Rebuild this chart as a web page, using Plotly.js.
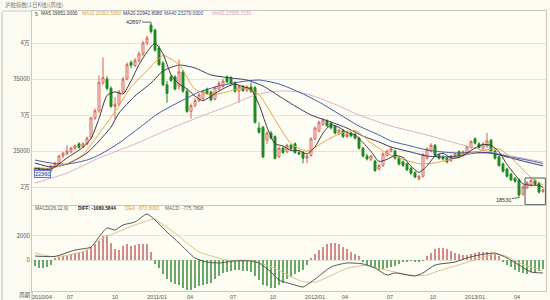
<!DOCTYPE html>
<html><head><meta charset="utf-8">
<script src="https://cdn.plot.ly/plotly-3.0.1.min.js"></script>
<style>html,body{margin:0;padding:0;background:#fbfbf2;}#c{width:550px;height:300px;}</style>
</head><body><div id="c"></div>
<script>
// ---- candle data (weekly) ----
var opn = [22300,22600,22200,22500,22300,22900,23300,24300,24600,24900,
25400,26000,25600,26000,26900,29600,30600,34500,35000,33700,
31200,31500,33200,35000,37300,36900,37600,38500,40000,42500,
41800,39300,37200,34200,35300,35300,34000,36000,33300,30500,
31300,32000,32300,33600,33200,32200,33600,34000,35300,35200,
34500,33300,34000,33400,33900,33800,28200,28300,26500,27500,
27000,24200,25400,24900,25800,26000,24800,24800,24000,24400,
26700,27800,28700,29200,28900,28400,27400,27800,27000,27500,
27300,26800,25400,24300,23800,23600,22500,23000,24400,25000,
25000,24000,23500,23200,22600,22000,21100,21500,24000,25000,
25800,24400,24100,24000,23700,24300,24900,24400,24700,25500,
26700,26000,25400,25700,26500,25000,24200,23200,22500,21800,
21200,21000,19000,19900,20300,20900,20500,19400];
var hi = [22800,22700,22700,22600,23100,23500,24500,24900,25800,25600,
25900,26200,26200,27000,29800,30900,35500,38000,35400,34000,
32500,33500,35300,37300,37600,37900,38800,40300,41000,42897,
42000,39600,37500,34700,35600,35500,37700,36300,33600,31600,
32300,33000,33500,33800,33400,34000,34700,35000,35500,35400,
34700,34200,34200,34100,34500,34000,29000,28500,27800,27800,
27200,25600,25600,26000,26000,26200,25100,25000,24500,26900,
28400,29200,29500,29400,29000,28600,28100,28000,27500,27700,
27500,27000,25600,24600,24500,23800,23200,24800,25200,25600,
25200,24200,23700,23400,22800,22200,21700,24700,25500,26100,
26000,24700,24400,24200,24500,24800,25100,25100,25800,26500,
26900,26200,26200,27500,26700,25200,24400,23400,22700,22000,
21400,21200,20300,20800,21100,21100,20700,19800];
var lo = [22100,22000,22100,22000,22100,22700,23200,24000,24400,24700,
25100,25300,25400,25800,26700,29300,30300,34200,33400,31000,
29400,31200,33000,34800,36500,36600,37300,38200,39700,41300,
38800,36800,34000,31700,34600,33400,33500,33100,30300,29500,
31100,31800,32100,32800,31900,32000,33400,33800,34400,34200,
33100,31700,33200,33200,33100,28800,27400,24000,26000,26600,
23800,24000,24600,24700,25100,24600,24400,23300,23300,24200,
26500,27600,28500,28300,28000,27300,27200,26800,26800,26900,
26600,25200,24100,23700,23600,22100,22300,22800,24200,24800,
23800,23000,22800,22200,21700,21200,20900,21300,23800,24800,
24200,23800,23700,23300,23500,24100,24000,24200,24500,25300,
25900,25300,25200,25500,24800,23800,22800,22000,21300,20800,
20600,18530,18800,19700,20100,20200,19100,19200];
var cls = [22600,22200,22500,22300,22900,23300,24300,24700,25000,25400,
25700,25500,26000,26800,29600,30600,34500,35200,33700,31200,
31500,33200,35000,37000,36900,37600,38500,40000,40700,41600,
39000,37000,34200,33000,34800,33600,36000,33300,30500,31300,
32000,32800,33300,33000,32100,33800,34400,34700,34600,34400,
33300,34000,33400,33900,33300,29000,27600,24200,27500,26800,
24000,25400,24800,25800,25300,24800,24600,24000,24300,26700,
28200,29000,29300,28500,28200,27500,27900,27000,27300,27100,
26800,25400,24300,23900,24300,22300,23000,24600,25000,25300,
24000,23200,23000,22400,21900,21400,21500,24500,25300,25800,
24400,24000,23900,23500,24300,24600,24200,24900,25600,26300,
26100,25500,26000,26400,25000,24000,23000,22200,21500,21000,
20800,18900,20000,20600,20900,20400,19300,19600];

// ---- moving averages ----
var ma5Idx = [0,4,8,12,14,16,18,20,22,24,26,28,30,32,34,36,38,40,42,44,46,48,50,52,54,56,58,60,62,64,66,68,70,72,74,76,78,80,82,84,86,88,90,92,94,96,98,100,102,104,106,108,110,112,114,116,118,120,122,124,126,127];
var ma5Val = [22600,22500,24040,25520,26720,29500,32720,33220,32920,34720,37000,38740,39960,38500,35600,34320,33640,32620,31980,32640,33320,33920,34280,33940,33580,31440,28320,26020,25700,25060,25060,24600,25560,27500,28640,28280,27580,27220,26180,24940,23560,23840,24380,24100,22900,22040,22920,24300,24680,24020,24100,24720,25420,25900,25800,24880,23140,21700,20440,20240,20240,19951];
var ma10Idx = [0,4,8,12,16,20,24,28,32,36,40,44,48,52,56,60,64,68,72,76,80,84,88,92,96,100,104,108,112,116,120,124,127];
var ma10Val = [22700,22600,23245,24510,27380,30460,33880,36160,38250,36990,33570,32790,33200,33770,32820,29370,26040,24980,26200,27360,27860,26150,24670,23860,23230,23340,23860,24520,25100,25280,23540,21290,20301];
var ma20Idx = [0,4,8,13,16,19,21,25,29,32,36,40,44,49,53,57,61,65,69,74,78,82,86,89,94,98,102,106,110,114,119,123,127];
var ma20Val = [23330,22780,23190,24720,26390,28330,30280,32640,34440,36110,36940,36530,35560,35140,34860,34030,32640,31250,30000,29030,28190,27080,26250,25560,24860,24310,24170,24310,24720,24720,24030,23470,22942];
var ma40Idx = [0,4,8,13,16,21,26,31,38,41,46,51,56,61,66,71,76,81,86,89,94,98,102,106,110,114,119,123,127];
var ma40Val = [23750,23330,23190,23750,24440,26110,28190,30280,32360,33190,34030,34580,34860,34310,33190,31810,30140,28470,27220,26390,25690,25140,24860,24720,24860,24720,24170,23750,23279];
var ma60Idx = [0,8,16,25,33,41,49,55,61,66,71,76,81,89,98,106,114,123,127];
var ma60Val = [20560,21940,24030,25970,27920,29720,31390,32780,33330,33190,32360,31250,30000,28470,27220,25970,24860,23890,23506];

// ---- MACD ----
var diffIdx = [0,5,10,14,16,18,20,22,25,28,30,33,36,40,43,46,50,54,56,59,61,65,67,70,74,78,82,85,88,90,95,97,100,105,108,111,115,118,121,124,127];
var diffVal = [330,300,830,1080,1920,2670,2500,2920,3170,3830,3330,2330,1420,170,-170,-250,-80,-80,-250,-1000,-1670,-2080,-2250,-1600,-580,-250,-330,-670,-1250,-1080,-1330,-1080,-420,-170,170,420,580,170,-420,-1000,-1080];
var deaIdx = [0,4,8,13,16,20,25,30,31,35,38,41,45,48,54,60,64,67,70,74,78,83,86,90,95,98,101,105,110,115,118,122,127];
var deaVal = [580,300,380,830,1670,2250,2920,3420,3170,2250,1420,670,250,0,-50,-700,-1400,-1800,-1850,-1300,-700,-450,-700,-1000,-1300,-1250,-900,-500,0,500,300,-400,-874];
var hist = [-500,-650,-700,-600,-400,150,250,350,400,500,
600,650,700,800,1100,1300,1600,2000,2100,1400,
900,850,1200,1300,1200,1250,1300,1350,1300,700,
-300,-700,-1200,-1600,-1800,-2000,-2100,-2300,-2500,-2500,
-2300,-2200,-2100,-2000,-1900,-1600,-1300,-1100,-1000,-900,
-800,-800,-900,-900,-1000,-1300,-1700,-2100,-2200,-2300,
-2300,-2100,-1900,-1600,-1400,-1200,-1000,-800,-400,200,
500,800,1100,1300,1400,1400,1300,1100,900,700,
500,300,-200,-400,-500,-700,-800,-750,-700,-600,
-500,-300,-200,-150,-100,-150,-200,-100,300,600,
900,1000,1000,900,750,600,500,450,400,500,
600,700,700,650,600,500,300,-200,-400,-600,
-800,-1000,-1100,-1200,-1000,-1100,-900,-775];

// ---- axis labels ----
var xTickPos = [1.75,8.75,20,30.5,38.75,49.5,59.5,70,77.5,88.75,99.5,110,120.5];
var xTickText = ["2010/04","07","10","2011/01","04","07","10","2012/01","04","07","10","2013/01","04"];
var yTickVals = [20000,25000,30000,35000,40000];
var yTickText = ["2万","25000","3万","35000","4万"];
var macdTickVals = [0,2000];
var macdTickText = ["0","2000"];

var idx = opn.map(function(_, i){ return i; });
var FONT = "Noto Sans CJK SC, DejaVu Sans, sans-serif";
var LFONT = "Liberation Sans, Noto Sans CJK SC, sans-serif";
var BG = "#fdfdf3";

function maLine(xs, ys, color){
  return {type:"scatter", mode:"lines", x:xs, y:ys, xaxis:"x2", yaxis:"y",
    line:{color:color, width:1, shape:"spline", smoothing:0.6}, hoverinfo:"skip"};
}
var traces = [
  maLine(ma60Idx, ma60Val, "#d9b0cc"),
  maLine(ma40Idx, ma40Val, "#4a5aa8"),
  maLine(ma20Idx, ma20Val, "#3b3566"),
  maLine(ma10Idx, ma10Val, "#e3a24a"),
  maLine(ma5Idx, ma5Val, "#3a3a3a"),
  {type:"candlestick", x:idx, open:opn, high:hi, low:lo, close:cls, xaxis:"x2", yaxis:"y",
   increasing:{line:{color:"#d8605a", width:1}, fillcolor:BG},
   decreasing:{line:{color:"#1f8a1f", width:1}, fillcolor:"#1f8a1f"},
   whiskerwidth:0, hoverinfo:"skip"},
  {type:"bar", x:idx, y:hist, xaxis:"x", yaxis:"y2", width:0.3,
   marker:{color:hist.map(function(v){return v>=0?"#d48a8a":"#6aa86a";}), line:{width:0}}, hoverinfo:"skip"},
  {type:"scatter", mode:"lines", x:deaIdx, y:deaVal, xaxis:"x", yaxis:"y2",
   line:{color:"#d9c48a", width:1, shape:"spline", smoothing:0.6}, hoverinfo:"skip"},
  {type:"scatter", mode:"lines", x:diffIdx, y:diffVal, xaxis:"x", yaxis:"y2",
   line:{color:"#555555", width:1, shape:"spline", smoothing:0.6}, hoverinfo:"skip"}
];

function px(x){ return (x-32)/514; }
function py(y){ return (291-y)/280; }
function txt(x, y, s, color, size, bold, fam){
  return {xref:"paper", yref:"paper", x:px(x), y:py(y), xanchor:"left", yanchor:"middle",
    text: bold ? "<b>"+s+"</b>" : s, showarrow:false, font:{family:fam||LFONT, size:size||5, color:color}};
}
var ann = [
  txt(3, 5, "沪胶指数(1日K线)(周线)", "#777", 5.5, false, FONT),
  txt(33, 14, "5", "#444", 5),
  txt(39, 14, "MA5 19951.0000", "#333", 4.8),
  txt(80, 14, "MA10 20301.5890", "#e0a040", 4.8),
  txt(121, 14, "MA20 22942.8080", "#3b3566", 4.8),
  txt(162, 14, "MA40 23279.0000", "#3a4aa0", 4.8),
  txt(210, 14, "MA60 23506.3150", "#d9a0c0", 4.8),
  txt(33, 209, "MACD(26,12,9)", "#555", 4.8),
  txt(76, 209, "DIFF: -1080.5844", "#222", 4.8, true),
  txt(123, 209, "DEA: -873.8093", "#e0a040", 4.8),
  txt(163, 209, "MACD: -775.7808", "#666", 4.8),
  txt(17, 295, "周期", "#555", 5.5, false, FONT),
  {xref:"x2", yref:"y", x:29, y:42897, ax:-18, ay:0, text:"42897", showarrow:true, arrowhead:0, arrowwidth:0.8,
   arrowcolor:"#444", font:{family:LFONT, size:5.5, color:"#333"}},
  {xref:"x2", yref:"y", x:121, y:18530, ax:-16, ay:2, text:"18530", showarrow:true, arrowhead:0, arrowwidth:0.8,
   arrowcolor:"#444", font:{family:LFONT, size:5.5, color:"#333"}},
  {xref:"paper", yref:"paper", x:px(34), y:py(174), xanchor:"left", yanchor:"middle", text:"22360", showarrow:false,
   bordercolor:"#5a7ad0", borderwidth:1, borderpad:0, bgcolor:"#eef2ff", font:{family:LFONT, size:5.5, color:"#2a3f90"}}
];
var shapes = [
  {type:"rect", xref:"x2", yref:"y", x0:122.5, x1:127.6, y0:17550, y1:21250, line:{color:"#555", width:1}},
  {type:"line", xref:"paper", yref:"paper", x0:px(2), x1:px(2), y0:py(12), y1:py(300), line:{color:"#bbb", width:1}},
  {type:"line", xref:"paper", yref:"paper", x0:px(2), x1:px(32), y0:py(11), y1:py(11), line:{color:"#ccc", width:1}},
  {type:"line", xref:"paper", yref:"paper", x0:0, x1:0, y0:0, y1:py(300), line:{color:"#bbb", width:1}}
];

var layout = {
  width:550, height:300, margin:{l:32, r:4, t:11, b:9},
  paper_bgcolor:"#fbfbf2", plot_bgcolor:BG, showlegend:false,
  font:{family:FONT, size:6, color:"#555"},
  xaxis:{domain:[0,1], anchor:"y2", range:[-0.75,127.75], tickvals:xTickPos, ticktext:xTickText,
    showgrid:false, zeroline:false, showline:true, mirror:true, linecolor:"#c8c8c0", linewidth:1,
    ticks:"", tickfont:{family:LFONT, size:5.5, color:"#555"}, rangeslider:{visible:false}, fixedrange:true},
  xaxis2:{domain:[0,1], anchor:"y", matches:"x", range:[-0.75,127.75], showticklabels:false, showgrid:false,
    zeroline:false, showline:true, mirror:true, linecolor:"#c8c8c0", linewidth:1, ticks:"", rangeslider:{visible:false}},
  yaxis:{domain:[0.307,1], range:[17500,44444], tickvals:yTickVals, ticktext:yTickText, showgrid:true,
    gridcolor:"#e4e4dc", gridwidth:1, zeroline:false, showline:true, mirror:true, linecolor:"#c8c8c0",
    ticks:"", tickfont:{family:FONT, size:6, color:"#555"}},
  yaxis2:{domain:[0,0.3036], range:[-2583,4500], tickvals:macdTickVals, ticktext:macdTickText, showgrid:true,
    gridcolor:"#e4e4dc", zeroline:false, showline:true, mirror:true, linecolor:"#c8c8c0",
    ticks:"", tickfont:{family:FONT, size:6, color:"#555"}},
  bargap:0, annotations:ann, shapes:shapes
};
Plotly.newPlot("c", traces, layout, {staticPlot:true, displayModeBar:false});
</script></body></html>
